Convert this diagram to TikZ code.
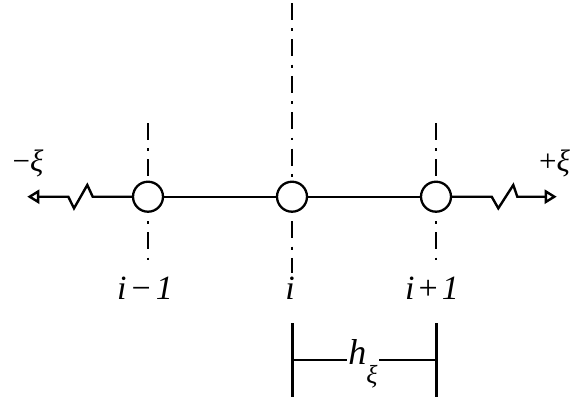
\documentclass[tikz,border=0pt]{standalone}
\usepackage{fontspec}
\setmainfont{Liberation Serif}
\usetikzlibrary{arrows.meta}
\begin{document}
\begin{tikzpicture}[x=1pt,y=-1pt,
  axisline/.style={line width=2.4pt, dash pattern=on 17pt off 8.3pt on 2.8pt off 8.3pt},
  nodept/.style={circle, draw, fill=white, line width=2.3pt, minimum size=30pt, inner sep=0pt},
  wire/.style={line width=2.4pt},
  tip/.style={-{Triangle[open,length=12pt,width=14pt,fill=white]}},
  lbl/.style={font=\fontsize{34}{34}\selectfont\itshape, inner sep=0pt, anchor=base},
  dirlbl/.style={font=\fontsize{31}{31}\selectfont, inner sep=0pt, anchor=base},
  bar/.style={line width=3pt},
  dim/.style={line width=2.4pt}
]
\useasboundingbox (0,0) rectangle (573,400);
% axes (dash-dot)
\coordinate (t1) at (148,123);
\coordinate (b1) at (148,263);
\coordinate (t2) at (292,3);
\coordinate (b2) at (292,273);
\coordinate (t3) at (436,123);
\coordinate (b3) at (436,263);
\draw[axisline] (t1) -- (b1);
\draw[axisline] (t2) -- (b2);
\draw[axisline] (t3) -- (b3);
% grid points
\node[nodept] (n1) at (148,196.7) {};
\node[nodept] (n2) at (292,196.7) {};
\node[nodept] (n3) at (436,196.7) {};
\draw[wire] (n1) -- (n2);
\draw[wire] (n2) -- (n3);
% left continuation
\coordinate (l1) at (92.7,196.7);
\coordinate (l2) at (87.3,185);
\coordinate (l3) at (74,208.3);
\coordinate (l4) at (68.3,196.7);
\coordinate (la) at (27.3,196.7);
\draw[wire,tip,line join=miter] (n1.west) -- (l1) -- (l2) -- (l3) -- (l4) -- (la);
% right continuation
\coordinate (r1) at (491.7,196.7);
\coordinate (r2) at (498.3,208.3);
\coordinate (r3) at (513.3,185);
\coordinate (r4) at (517.3,196.7);
\coordinate (ra) at (556.7,196.7);
\draw[wire,tip,line join=miter] (n3.east) -- (r1) -- (r2) -- (r3) -- (r4) -- (ra);
% direction labels
\node[dirlbl] (mx) at (28,171) {−\textit{ξ}};
\node[dirlbl,anchor=base west] (px) at (539,171) {+\textit{ξ}};
% index labels
\node[lbl] (li1) at (145,299) {i\kern5pt\textup{−}\kern5pt1};
\node[lbl] (li2) at (290,299) {i};
\node[lbl] (li3) at (432,299) {i\kern4pt\textup{+}\kern4pt1};
% spacing dimension
\coordinate (d1t) at (292,323);
\coordinate (d1b) at (292,397);
\coordinate (d2t) at (436,323);
\coordinate (d2b) at (436,397);
\draw[bar] (d1t) -- (d1b);
\draw[bar] (d2t) -- (d2b);
\node[inner sep=1.5pt] (h) at (363,364) {\fontsize{36}{36}\selectfont\itshape h\raisebox{-19pt}{\fontsize{26}{26}\selectfont ξ}};
\coordinate (hl) at (292,360);
\coordinate (hr) at (436,360);
\draw[dim] (hl) -- (h.west |- hl);
\draw[dim] (h.east |- hr) -- (hr);
\end{tikzpicture}
\end{document}
